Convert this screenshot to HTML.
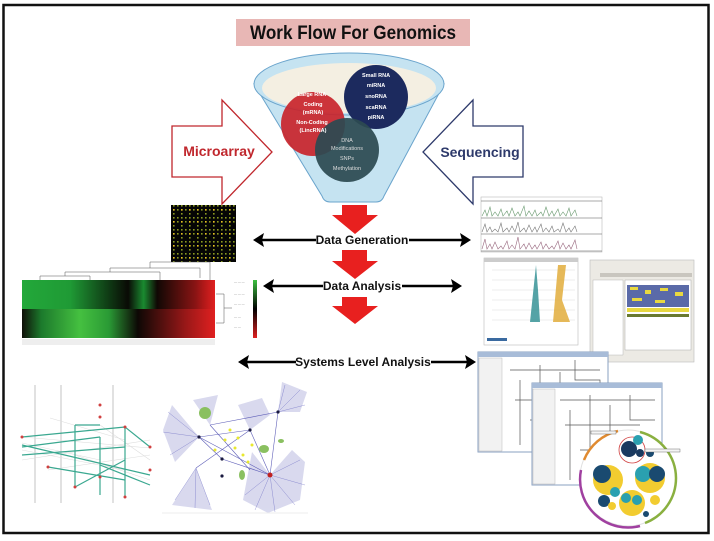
<!DOCTYPE html>
<html><head><meta charset="utf-8"><style>
html,body{margin:0;padding:0;background:#fff;}
svg{display:block;}
text{font-family:"Liberation Sans",Arial,sans-serif;}
</style></head><body>
<svg width="714" height="541" viewBox="0 0 714 541" xmlns="http://www.w3.org/2000/svg">
<defs>
  <pattern id="dots" width="4" height="4" patternUnits="userSpaceOnUse">
    <rect width="4" height="4" fill="#050505"/>
    <rect x="1" y="1" width="1.6" height="1.6" fill="#8a9a20"/>
  </pattern>
  <pattern id="dots2" width="8" height="12" patternUnits="userSpaceOnUse">
    <rect x="5" y="5" width="1.6" height="1.6" fill="#e8c020"/>
    <rect x="0" y="8" width="4" height="4" fill="#050505"/>
  </pattern>
  <linearGradient id="hm1" x1="0" x2="1">
    <stop offset="0" stop-color="#23a83a"/><stop offset="0.25" stop-color="#1f9a35"/>
    <stop offset="0.45" stop-color="#0f3a14"/><stop offset="0.55" stop-color="#0a0a05"/>
    <stop offset="0.63" stop-color="#1a8a30"/><stop offset="0.7" stop-color="#100804"/>
    <stop offset="0.9" stop-color="#8a1414"/><stop offset="0.94" stop-color="#b01818"/>
    <stop offset="1" stop-color="#e02020"/>
  </linearGradient>
  <linearGradient id="hm2" x1="0" x2="1">
    <stop offset="0" stop-color="#101008"/><stop offset="0.1" stop-color="#1c7a2c"/>
    <stop offset="0.3" stop-color="#45c040"/><stop offset="0.45" stop-color="#2a9a35"/>
    <stop offset="0.6" stop-color="#0d0805"/><stop offset="0.85" stop-color="#9a1818"/>
    <stop offset="1" stop-color="#e02020"/>
  </linearGradient>
  <linearGradient id="cb" x1="0" y1="0" x2="0" y2="1">
    <stop offset="0" stop-color="#3cc040"/><stop offset="0.5" stop-color="#000"/><stop offset="1" stop-color="#e02020"/>
  </linearGradient>
</defs>

<rect x="3.5" y="5" width="705" height="528" fill="#fff" stroke="#111" stroke-width="2.5"/>

<rect x="236" y="19" width="234" height="27" fill="#e8b7b5"/>
<text x="353" y="39" font-size="19" font-weight="bold" text-anchor="middle" fill="#111" textLength="206" lengthAdjust="spacingAndGlyphs">Work Flow For Genomics</text>

<path d="M172,126 L222,126 L222,100 L272,152 L222,204 L222,177 L172,177 Z" fill="#fff" stroke="#c0272d" stroke-width="1.3"/>
<text x="219" y="156" font-size="14" font-weight="bold" text-anchor="middle" fill="#c0272d">Microarray</text>
<path d="M523,126 L473,126 L473,100 L423,152 L473,204 L473,177 L523,177 Z" fill="#fff" stroke="#2e3a6b" stroke-width="1.3"/>
<text x="480" y="157" font-size="14" font-weight="bold" text-anchor="middle" fill="#2e3a6b">Sequencing</text>

<!-- funnel -->
<path d="M254,84 L322,196 Q324,202 330,202 L376,202 Q382,202 384,196 L444,84 Z" fill="#c5e3f1" stroke="#6aa4cc" stroke-width="1"/>
<ellipse cx="349" cy="84" rx="95" ry="31" fill="#c5e3f1" stroke="#6aa4cc" stroke-width="1"/>
<ellipse cx="349" cy="88" rx="87" ry="25" fill="#f4efe2"/>
<circle cx="313" cy="124" r="32" fill="#c8242b" opacity="0.92"/>
<circle cx="376" cy="97" r="32" fill="#1c2a5e"/>
<circle cx="347" cy="150" r="32" fill="#2c4a52" opacity="0.93"/>
<g font-size="5.5" fill="#fff" text-anchor="middle" font-weight="bold">
  <text x="312" y="96">Large RNA</text><text x="313" y="106">Coding</text><text x="313" y="114">(mRNA)</text>
  <text x="312" y="124">Non-Coding</text><text x="313" y="132">(LincRNA)</text>
  <text x="376" y="77">Small RNA</text><text x="376" y="87">miRNA</text><text x="376" y="98">snoRNA</text>
  <text x="376" y="109">scaRNA</text><text x="376" y="119">piRNA</text>
</g>
<g font-size="5.5" fill="#ddd" text-anchor="middle">
  <text x="347" y="142">DNA</text>
  <text x="347" y="150">Modifications</text><text x="347" y="160">SNPs</text><text x="347" y="170">Methylation</text>
</g>

<g fill="#e8201f">
  <path d="M342,205 L367,205 L367,215 L378,215 L355,234 L332,215 L342,215 Z"/>
  <path d="M342,250 L367,250 L367,261 L378,261 L355,279 L332,261 L342,261 Z"/>
  <path d="M342,297 L367,297 L367,306 L378,306 L355,324 L332,306 L342,306 Z"/>
</g>

<g stroke="#000" stroke-width="2.5">
  <line x1="256" y1="240" x2="316" y2="240"/>
  <line x1="409" y1="240" x2="468" y2="240"/>
  <line x1="266" y1="286" x2="323" y2="286"/>
  <line x1="402" y1="286" x2="459" y2="286"/>
  <line x1="242" y1="362" x2="296" y2="362"/>
  <line x1="431" y1="362" x2="473" y2="362"/>
</g>
<g fill="#000">
  <path d="M253,240 L264,233 L262,240 L264,247 Z"/>
  <path d="M471,240 L460,233 L462,240 L460,247 Z"/>
  <path d="M263,286 L274,279 L272,286 L274,293 Z"/>
  <path d="M462,286 L451,279 L453,286 L451,293 Z"/>
  <path d="M238,362 L249,355 L247,362 L249,369 Z"/>
  <path d="M476,362 L465,355 L467,362 L465,369 Z"/>
</g>
<g font-size="12" font-weight="bold" text-anchor="middle" fill="#111">
  <text x="362" y="244">Data Generation</text>
  <text x="362" y="290">Data Analysis</text>
  <text x="363" y="366">Systems Level Analysis</text>
</g>

<rect x="171" y="205" width="65" height="57" fill="url(#dots)"/>
<rect x="171" y="205" width="65" height="57" fill="url(#dots2)"/>

<g stroke="#555" stroke-width="0.5" fill="none">
  <path d="M40,280 V276 H90 V280 M65,276 V272 H160 V280 M110,272 V268 H200 V278 M150,268 V262 H210 V280"/>
  <path d="M216,294 H224 V323 H216 M224,308 H232"/>
</g>
<rect x="22" y="280" width="193" height="29" fill="url(#hm1)"/>
<rect x="22" y="309" width="193" height="29" fill="url(#hm2)"/>
<rect x="253" y="280" width="4" height="58" fill="url(#cb)"/>
<g font-size="3" fill="#666"><text x="234" y="283">— — —</text><text x="234" y="295">— — —</text><text x="234" y="305">— — —</text><text x="234" y="318">— —</text><text x="234" y="328">— —</text></g>
<rect x="22" y="339" width="193" height="6" fill="#eee"/>

<g stroke="#555" stroke-width="0.6" fill="none">
  <rect x="481" y="197" width="121" height="55" fill="#fff" stroke="#bbb"/>
  <line x1="481" y1="201" x2="602" y2="201"/><line x1="481" y1="218" x2="602" y2="218"/>
  <line x1="481" y1="234" x2="602" y2="234"/><line x1="481" y1="251" x2="602" y2="251"/>
  <path d="M482,216 l3,-6 l2,6 l3,-9 l2,9 l3,-4 l3,4 l3,-7 l2,7 l4,-5 l2,5 l3,-8 l3,8 l3,-4 l2,4 l4,-10 l2,10 l3,-5 l3,5 l3,-6 l2,6 l4,-4 l2,4 l3,-9 l3,9 l3,-5 l2,5 l4,-7 l2,7 l3,-4 l3,4 l3,-8 l2,8 l4,-6 l2,6" stroke="#6a9a70"/>
  <path d="M482,232 l3,-8 l2,8 l3,-5 l2,5 l3,-3 l3,3 l3,-9 l2,9 l4,-4 l2,4 l3,-6 l3,6 l3,-10 l2,10 l4,-4 l2,4 l3,-7 l3,7 l3,-5 l2,5 l4,-8 l2,8 l3,-4 l3,4 l3,-6 l2,6 l4,-3 l2,3 l3,-9 l3,9 l3,-4 l2,4 l4,-6 l2,6" stroke="#777"/>
  <path d="M482,249 l3,-10 l2,10 l3,-5 l2,5 l3,-7 l3,7 l3,-3 l2,3 l4,-8 l2,8 l3,-4 l3,4 l3,-12 l2,12 l4,-5 l2,5 l3,-6 l3,6 l3,-4 l2,4 l4,-7 l2,7 l3,-5 l3,5 l3,-3 l2,3 l4,-8 l2,8 l3,-6 l3,6 l3,-4 l2,4 l4,-9 l2,9" stroke="#9a6a80"/>
</g>

<rect x="484" y="258" width="94" height="87" fill="#fff" stroke="#bbb" stroke-width="0.6"/>
<rect x="484" y="258" width="94" height="4" fill="#ccc"/>
<g stroke="#ddd" stroke-width="0.5"><line x1="492" y1="270" x2="575" y2="270"/><line x1="492" y1="280" x2="575" y2="280"/><line x1="492" y1="290" x2="575" y2="290"/><line x1="492" y1="300" x2="575" y2="300"/><line x1="492" y1="310" x2="575" y2="310"/><line x1="492" y1="320" x2="575" y2="320"/></g>
<path d="M536,265 L538,290 L540,322 L530,322 Z" fill="#2a8c90" opacity="0.8"/>
<path d="M558,265 L566,265 L562,300 L570,322 L553,322 Z" fill="#e0a830" opacity="0.8"/>
<rect x="487" y="338" width="20" height="3" fill="#3a6aa0"/>

<rect x="590" y="260" width="104" height="102" fill="#eceae4" stroke="#bbb" stroke-width="0.6"/>
<rect x="600" y="273" width="92" height="4" fill="#c9c6bf"/>
<rect x="625" y="280" width="66" height="70" fill="#fff" stroke="#999" stroke-width="0.4"/>
<rect x="627" y="285" width="62" height="22" fill="#5a6aa8"/>
<g fill="#e8d840"><rect x="630" y="287" width="8" height="3"/><rect x="645" y="290" width="6" height="4"/><rect x="660" y="288" width="8" height="3"/><rect x="675" y="292" width="8" height="4"/><rect x="632" y="298" width="10" height="3"/><rect x="655" y="300" width="10" height="3"/></g>
<rect x="627" y="308" width="62" height="4" fill="#e8d840"/>
<rect x="627" y="314" width="62" height="3" fill="#6a7a30"/>
<rect x="593" y="280" width="30" height="75" fill="#fff" stroke="#aaa" stroke-width="0.4"/>

<rect x="478" y="352" width="130" height="100" fill="#fff" stroke="#8aa0c0"/>
<rect x="478" y="352" width="130" height="5" fill="#a8bcd8"/>
<rect x="479" y="358" width="23" height="93" fill="#f2f2f2" stroke="#aaa" stroke-width="0.4"/>
<g stroke="#555" stroke-width="0.7" fill="none"><path d="M510,370 H600 M520,380 V445 M540,365 V440 M515,400 H590 M560,372 V430 M530,420 H600 M575,360 V380 H600 V440"/></g>
<rect x="532" y="383" width="130" height="102" fill="#fff" stroke="#8aa0c0"/>
<rect x="532" y="383" width="130" height="5" fill="#a8bcd8"/>
<rect x="533" y="389" width="22" height="95" fill="#f2f2f2" stroke="#aaa" stroke-width="0.4"/>
<g stroke="#555" stroke-width="0.7" fill="none"><path d="M560,400 H655 M570,410 V480 M590,395 V470 M565,425 H640 M610,405 V460 M580,450 H620 M630,395 V420 H655"/></g>

<circle cx="628" cy="478" r="48" fill="#fff" stroke="#e0e0e0"/>
<path d="M584,460 A48,48 0 0 1 618,431" stroke="#e08a30" stroke-width="2.5" fill="none"/>
<path d="M640,432 A48,48 0 0 1 676,478 A48,48 0 0 1 645,523" stroke="#8ab040" stroke-width="2.5" fill="none"/>
<path d="M640,526 A48,48 0 0 1 581,470" stroke="#a040a0" stroke-width="2.5" fill="none"/>
<circle cx="632" cy="450" r="13" fill="none" stroke="#d04040" stroke-width="0.8"/>
<g>
  <circle cx="608" cy="480" r="15" fill="#f2cc30"/><circle cx="602" cy="474" r="9" fill="#1a4a70"/>
  <circle cx="615" cy="492" r="5" fill="#2aa0b0"/>
  <circle cx="650" cy="478" r="15" fill="#f2cc30"/><circle cx="643" cy="474" r="8" fill="#2aa0b0"/><circle cx="657" cy="474" r="8" fill="#1a4a70"/>
  <circle cx="629" cy="449" r="8" fill="#1a3a60"/><circle cx="638" cy="440" r="5" fill="#2aa0b0"/><circle cx="640" cy="453" r="4" fill="#1a3a60"/>
  <circle cx="632" cy="503" r="13" fill="#f2cc30"/><circle cx="626" cy="498" r="5" fill="#2aa0b0"/><circle cx="637" cy="500" r="5" fill="#2aa0b0"/>
  <circle cx="604" cy="501" r="6" fill="#1a4a70"/><circle cx="612" cy="506" r="4" fill="#f2cc30"/>
  <circle cx="655" cy="500" r="5" fill="#f2cc30"/><circle cx="650" cy="453" r="4" fill="#1a4a70"/>
  <circle cx="646" cy="514" r="3" fill="#1a4a70"/>
</g>
<rect x="591" y="431" width="25" height="3" fill="#f4f4f4" stroke="#555" stroke-width="0.4"/>
<rect x="645" y="449" width="35" height="3" fill="#f4f4f4" stroke="#555" stroke-width="0.4"/>

<!-- left network -->
<g stroke="#aaa" stroke-width="0.7"><line x1="35" y1="385" x2="35" y2="503"/><line x1="61" y1="385" x2="61" y2="503"/><line x1="113" y1="385" x2="113" y2="503"/></g>
<g stroke="#ddd" stroke-width="0.6">
  <line x1="22" y1="443" x2="100" y2="460"/><line x1="22" y1="450" x2="125" y2="470"/><line x1="50" y1="418" x2="125" y2="440"/>
  <line x1="22" y1="437" x2="150" y2="448"/><line x1="75" y1="455" x2="150" y2="480"/><line x1="100" y1="425" x2="150" y2="460"/>
  <line x1="22" y1="460" x2="150" y2="440"/><line x1="48" y1="470" x2="150" y2="455"/>
</g>
<g stroke="#3aa890" stroke-width="1.2" fill="none">
  <line x1="22" y1="437" x2="125" y2="427"/><line x1="22" y1="447" x2="100" y2="437"/><line x1="22" y1="455" x2="125" y2="447"/>
  <line x1="75" y1="425" x2="100" y2="425"/><line x1="75" y1="425" x2="75" y2="487"/><line x1="100" y1="437" x2="100" y2="495"/>
  <line x1="22" y1="445" x2="150" y2="475"/><line x1="125" y1="427" x2="150" y2="447"/><line x1="125" y1="427" x2="125" y2="497"/>
  <line x1="75" y1="487" x2="125" y2="460"/><line x1="100" y1="465" x2="150" y2="485"/><line x1="48" y1="467" x2="125" y2="480"/>
</g>
<g fill="#d04040"><circle cx="100" cy="405" r="1.5"/><circle cx="100" cy="417" r="1.5"/><circle cx="125" cy="427" r="1.5"/><circle cx="22" cy="437" r="1.5"/><circle cx="150" cy="447" r="1.5"/><circle cx="48" cy="467" r="1.5"/><circle cx="75" cy="487" r="1.5"/><circle cx="125" cy="497" r="1.5"/><circle cx="150" cy="470" r="1.5"/><circle cx="100" cy="477" r="1.5"/></g>

<!-- blue network -->
<g fill="#c9cae8" opacity="0.7">
  <path d="M199,437 L172,405 L163,430 L175,462 Z"/>
  <path d="M196,468 L172,505 L212,510 Z"/>
  <path d="M270,475 L252,452 L243,500 L268,513 L300,500 L305,462 L292,450 Z"/>
  <path d="M278,412 L282,382 L307,392 L300,412 Z"/>
  <path d="M250,430 L238,405 L262,398 L270,415 Z"/>
  <path d="M210,425 L193,400 L218,395 Z"/>
</g>
<g stroke="#3a3ab0" stroke-width="0.4" opacity="0.6">
  <line x1="270" y1="475" x2="245" y2="495"/><line x1="270" y1="475" x2="255" y2="510"/><line x1="270" y1="475" x2="275" y2="512"/>
  <line x1="270" y1="475" x2="295" y2="505"/><line x1="270" y1="475" x2="305" y2="485"/><line x1="270" y1="475" x2="300" y2="460"/>
  <line x1="199" y1="437" x2="168" y2="412"/><line x1="199" y1="437" x2="163" y2="432"/><line x1="199" y1="437" x2="170" y2="455"/>
  <line x1="196" y1="468" x2="175" y2="500"/><line x1="196" y1="468" x2="195" y2="508"/><line x1="196" y1="468" x2="210" y2="505"/>
  <line x1="278" y1="412" x2="285" y2="385"/><line x1="278" y1="412" x2="300" y2="390"/><line x1="278" y1="412" x2="305" y2="405"/>
</g>
<g stroke="#3a3aa8" stroke-width="0.6" opacity="0.8">
  <line x1="199" y1="437" x2="250" y2="430"/><line x1="199" y1="437" x2="270" y2="475"/><line x1="210" y1="425" x2="278" y2="412"/>
  <line x1="250" y1="430" x2="270" y2="475"/><line x1="222" y1="459" x2="270" y2="475"/><line x1="196" y1="468" x2="250" y2="430"/>
  <line x1="199" y1="437" x2="222" y2="459"/><line x1="278" y1="412" x2="270" y2="475"/><line x1="210" y1="425" x2="250" y2="470"/>
</g>
<g fill="#e8e830"><circle cx="225" cy="440" r="1.5"/><circle cx="235" cy="448" r="1.5"/><circle cx="243" cy="455" r="1.5"/><circle cx="230" cy="430" r="1.5"/><circle cx="252" cy="445" r="1.5"/><circle cx="215" cy="450" r="1.5"/><circle cx="238" cy="438" r="1.5"/><circle cx="248" cy="462" r="1.5"/></g>
<g fill="#8ac060"><ellipse cx="205" cy="413" rx="6" ry="6"/><ellipse cx="264" cy="449" rx="5" ry="4"/><ellipse cx="242" cy="475" rx="3" ry="5"/><ellipse cx="281" cy="441" rx="3" ry="2"/></g>
<g fill="#1a1a40"><circle cx="199" cy="437" r="1.6"/><circle cx="250" cy="430" r="1.6"/><circle cx="278" cy="412" r="1.6"/><circle cx="222" cy="459" r="1.6"/><circle cx="222" cy="476" r="1.6"/></g>
<circle cx="270" cy="475" r="2.5" fill="#c02020"/>
<line x1="162" y1="513" x2="308" y2="513" stroke="#eee" stroke-width="1"/>
</svg>
</body></html>
